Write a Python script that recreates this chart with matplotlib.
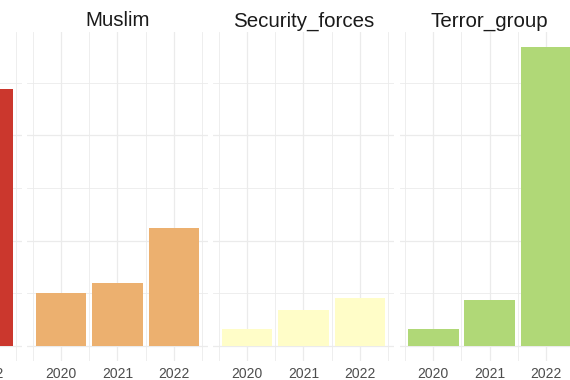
import matplotlib
matplotlib.use("Agg")
import matplotlib.pyplot as plt
import numpy as np

# valores (panel izquierdo recortado: solo se ve 2022)
years = [2020, 2021, 2022]
left_vals = [np.nan, np.nan, 122]
muslim_vals = [25, 30, 56]
security_vals = [8, 17, 23]
terror_vals = [8, 22, 142]

panel_titles = [None, "Muslim", "Security_forces", "Terror_group"]
panel_vals = [left_vals, muslim_vals, security_vals, terror_vals]
panel_colors = ["#CB372D", "#ECB06F", "#FFFDC8", "#B0D877"]

plt.rcParams["font.family"] = ["Liberation Sans", "DejaVu Sans"]

W, H = 570, 380
fig = plt.figure(figsize=(W / 100, H / 100), dpi=100)

ymax = np.nanmax(np.concatenate([np.array(v, float) for v in panel_vals]))
ylim = (-0.05 * ymax, 1.05 * ymax)
xlim = (2019.405, 2022.595)

lefts = [-158.6, 27.4, 213.4, 399.5]
pw = 180.2
top, bot = 32, 361

for i, (left, title, vals, col) in enumerate(zip(lefts, panel_titles, panel_vals, panel_colors)):
    ax = fig.add_axes([left / W, (H - bot) / H, pw / W, (bot - top) / H])
    ax.set_xlim(*xlim); ax.set_ylim(*ylim)
    for s in ax.spines.values():
        s.set_visible(False)
    for yv in np.arange(0, ylim[1], 25):
        ax.axhline(yv, color="#EBEBEB", lw=0.9 if yv % 50 == 0 else 0.6, zorder=0)
    for xv in np.arange(2019.5, 2023, 0.5):
        ax.axvline(xv, color="#EBEBEB", lw=0.9 if xv % 1 == 0 else 0.6, zorder=0)
    ax.bar(years, vals, width=0.9, color=col, lw=0, zorder=2)
    # en el panel recortado solo asoma la etiqueta de 2022
    shown = years[-1:] if i == 0 else years
    ax.set_xticks(shown)
    ax.set_xticklabels([str(y) for y in shown])
    ax.set_yticks([])
    ax.tick_params(axis="x", length=0, pad=4.5, labelsize=10, labelcolor="#4D4D4D")
    if title:
        ax.set_title(title, fontsize=14.8, color="#1A1A1A", pad=4)

fig.savefig("out.png", dpi=100)
